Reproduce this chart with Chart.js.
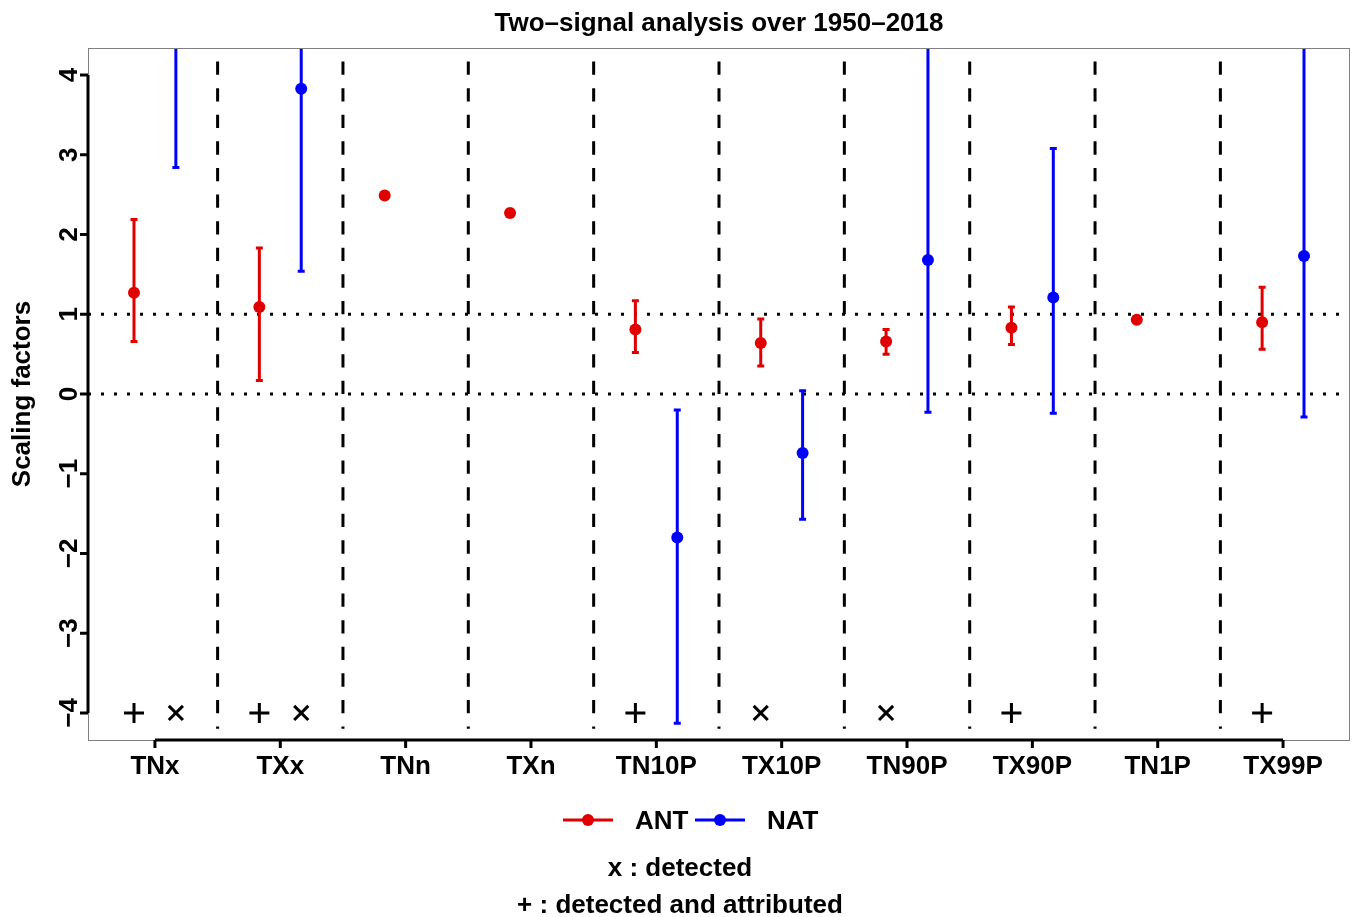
<!DOCTYPE html>
<html>
<head>
<meta charset="utf-8">
<title>Two-signal analysis over 1950-2018</title>
<script src="https://cdn.jsdelivr.net/npm/chart.js@4.4.0/dist/chart.umd.min.js"></script>
<style>
  html, body { margin: 0; padding: 0; background: #fff; }
  #chart { display: block; }
</style>
</head>
<body>
<canvas id="chart" width="1355" height="917"></canvas>
<script>
// ====== Data ======
const categories = ["TNx", "TXx", "TNn", "TXn", "TN10P", "TX10P", "TN90P", "TX90P", "TN1P", "TX99P"];

// ANT signal: best estimate + 90% range (null = no range drawn)
const antBest = [1.27, 1.09, 2.49, 2.27, 0.81, 0.64, 0.66, 0.83, 0.93, 0.90];
const antLow  = [0.66, 0.17, null, null, 0.52, 0.35, 0.50, 0.62, null, 0.56];
const antHigh = [2.19, 1.83, null, null, 1.17, 0.94, 0.81, 1.09, null, 1.34];

// NAT signal (values above the plot are estimates, they get clipped)
const natBest = [5.2, 3.83, null, null, -1.80, -0.74, 1.68, 1.21, null, 1.73];
const natLow  = [2.84, 1.54, null, null, -4.13, -1.57, -0.23, -0.24, null, -0.29];
const natHigh = [7.6, 6.1, null, null, -0.20, 0.04, 4.9, 3.08, null, 4.8];

// detection flags drawn along the bottom: "+" detected and attributed, "x" detected
const antDetect = ["+", "+", "", "", "+", "x", "x", "+", "", "+"];
const natDetect = ["x", "x", "", "", "", "", "", "", "", ""];
const detectLevel = -4;

const yTicks = [-4, -3, -2, -1, 0, 1, 2, 3, 4];
const refLines = [0, 1];
const separators = [1.5, 2.5, 3.5, 4.5, 5.5, 6.5, 7.5, 8.5, 9.5];

// ====== Style ======
const FONT = '"Liberation Sans", Arial, Helvetica, sans-serif';
const RED = "#e00000";
const BLUE = "#0000ff";
const ANT_SHIFT = -0.167;
const NAT_SHIFT = 0.167;

function toPoints(values, shift) {
  const pts = [];
  values.forEach((v, i) => {
    if (v !== null) pts.push({ x: i + 1 + shift, y: v });
  });
  return pts;
}

function detectPoints(flags, shift, symbol) {
  const pts = [];
  flags.forEach((f, i) => {
    if (f === symbol) pts.push({ x: i + 1 + shift, y: detectLevel });
  });
  return pts;
}

function minusLabel(v) {
  return v < 0 ? "\u2212" + Math.abs(v) : String(v);
}

// ====== Background: reference lines, separators, error bars ======
const errorBarPlugin = {
  id: "errorBars",
  beforeDatasetsDraw(chart) {
    const { ctx, chartArea: a, scales: { x, y } } = chart;
    ctx.save();
    ctx.beginPath();
    ctx.rect(a.left, a.top, a.right - a.left, a.bottom - a.top);
    ctx.clip();

    // dotted lines at 0 and 1
    ctx.strokeStyle = "#000";
    ctx.lineWidth = 3;
    ctx.setLineDash([3, 10]);
    refLines.forEach(v => {
      const py = y.getPixelForValue(v);
      ctx.beginPath();
      ctx.moveTo(a.left, py);
      ctx.lineTo(a.right, py);
      ctx.stroke();
    });

    // dashed separators between indices
    ctx.setLineDash([13.3, 13.3]);
    separators.forEach(s => {
      const px = x.getPixelForValue(s);
      ctx.beginPath();
      ctx.moveTo(px, y.getPixelForValue(4.17));
      ctx.lineTo(px, y.getPixelForValue(-4.2));
      ctx.stroke();
    });
    ctx.setLineDash([]);

    const drawBars = (low, high, shift, color) => {
      ctx.strokeStyle = color;
      ctx.lineWidth = 3;
      low.forEach((lo, i) => {
        if (lo === null || high[i] === null) return;
        const px = x.getPixelForValue(i + 1 + shift);
        const p1 = y.getPixelForValue(lo);
        const p2 = y.getPixelForValue(high[i]);
        ctx.beginPath();
        ctx.moveTo(px, p1);
        ctx.lineTo(px, p2);
        ctx.moveTo(px - 3.5, p1);
        ctx.lineTo(px + 3.5, p1);
        ctx.moveTo(px - 3.5, p2);
        ctx.lineTo(px + 3.5, p2);
        ctx.stroke();
      });
    };
    drawBars(antLow, antHigh, ANT_SHIFT, RED);
    drawBars(natLow, natHigh, NAT_SHIFT, BLUE);
    ctx.restore();
  }
};

// ====== Foreground: axes, labels, legend, notes ======
const decorPlugin = {
  id: "decor",
  afterDraw(chart) {
    const { ctx, chartArea: a, scales: { x, y } } = chart;
    ctx.save();

    // thin plot box
    ctx.strokeStyle = "#808080";
    ctx.lineWidth = 1;
    ctx.strokeRect(a.left + 0.5, a.top + 0.5, a.right - a.left - 1, a.bottom - a.top);

    // y axis
    ctx.strokeStyle = "#000";
    ctx.lineWidth = 3;
    ctx.beginPath();
    ctx.moveTo(a.left, y.getPixelForValue(yTicks[0]));
    ctx.lineTo(a.left, y.getPixelForValue(yTicks[yTicks.length - 1]));
    yTicks.forEach(t => {
      const py = y.getPixelForValue(t);
      ctx.moveTo(a.left, py);
      ctx.lineTo(a.left - 8, py);
    });
    ctx.stroke();

    // x axis
    ctx.beginPath();
    ctx.moveTo(x.getPixelForValue(1), a.bottom);
    ctx.lineTo(x.getPixelForValue(categories.length), a.bottom);
    categories.forEach((c, i) => {
      const px = x.getPixelForValue(i + 1);
      ctx.moveTo(px, a.bottom);
      ctx.lineTo(px, a.bottom + 8);
    });
    ctx.stroke();

    ctx.fillStyle = "#000";
    ctx.font = "bold 26px " + FONT;
    ctx.textAlign = "center";
    ctx.textBaseline = "middle";

    // y tick labels, rotated as in R
    yTicks.forEach(t => {
      ctx.save();
      ctx.translate(69, y.getPixelForValue(t));
      ctx.rotate(-Math.PI / 2);
      ctx.fillText(minusLabel(t), 0, 1);
      ctx.restore();
    });

    // y title
    ctx.save();
    ctx.translate(23, (a.top + a.bottom) / 2);
    ctx.rotate(-Math.PI / 2);
    ctx.fillText("Scaling factors", 0, 0);
    ctx.restore();

    // title
    ctx.fillText("Two\u2013signal analysis over 1950\u20132018", (a.left + a.right) / 2, 24);

    // legend
    const legendY = 820;
    const item = (x0, color, label) => {
      ctx.strokeStyle = color;
      ctx.lineWidth = 3;
      ctx.beginPath();
      ctx.moveTo(x0, legendY);
      ctx.lineTo(x0 + 50, legendY);
      ctx.stroke();
      ctx.fillStyle = color;
      ctx.beginPath();
      ctx.arc(x0 + 25, legendY, 6, 0, Math.PI * 2);
      ctx.fill();
      ctx.fillStyle = "#000";
      ctx.textAlign = "left";
      ctx.fillText(label, x0 + 72, legendY + 2);
    };
    item(563, RED, "ANT");
    item(695, BLUE, "NAT");

    // notes
    ctx.textAlign = "center";
    ctx.fillText("x : detected", 680, 869);
    ctx.fillText("+ : detected and attributed", 680, 906);

    ctx.restore();
  }
};

// ====== Chart ======
const ctx = document.getElementById("chart").getContext("2d");
new Chart(ctx, {
  type: "scatter",
  data: {
    datasets: [
      {
        label: "ANT",
        data: toPoints(antBest, ANT_SHIFT),
        backgroundColor: RED,
        pointRadius: 6,
        pointBorderWidth: 0
      },
      {
        label: "NAT",
        data: toPoints(natBest, NAT_SHIFT),
        backgroundColor: BLUE,
        pointRadius: 6,
        pointBorderWidth: 0
      },
      {
        label: "detected and attributed",
        data: detectPoints(antDetect, ANT_SHIFT, "+").concat(detectPoints(natDetect, NAT_SHIFT, "+")),
        pointStyle: "cross",
        pointRadius: 10,
        borderColor: "#000",
        pointBorderWidth: 3
      },
      {
        label: "detected",
        data: detectPoints(antDetect, ANT_SHIFT, "x").concat(detectPoints(natDetect, NAT_SHIFT, "x")),
        pointStyle: "crossRot",
        pointRadius: 10,
        borderColor: "#000",
        pointBorderWidth: 3
      }
    ]
  },
  options: {
    responsive: false,
    animation: false,
    devicePixelRatio: 1,
    layout: {
      autoPadding: false,
      padding: { top: 48, right: 5, bottom: 117, left: 0 }
    },
    plugins: {
      legend: { display: false },
      title: { display: false },
      tooltip: { enabled: false }
    },
    scales: {
      x: {
        type: "linear",
        min: 0.466,
        max: 10.534,
        grid: { display: false, drawTicks: false },
        border: { display: false },
        afterBuildTicks: scale => {
          scale.ticks = categories.map((c, i) => ({ value: i + 1 }));
        },
        afterFit: scale => {
          scale.height = 60;
          scale.paddingLeft = 0;
          scale.paddingRight = 0;
        },
        ticks: {
          autoSkip: false,
          maxRotation: 0,
          padding: 11,
          color: "#000",
          font: { family: FONT, size: 26, weight: "bold" },
          callback: v => categories[v - 1]
        }
      },
      y: {
        min: -4.34,
        max: 4.34,
        grid: { display: false, drawTicks: false },
        border: { display: false },
        ticks: { display: false },
        afterFit: scale => {
          scale.width = 88;
          scale.paddingTop = 0;
          scale.paddingBottom = 0;
        }
      }
    }
  },
  plugins: [errorBarPlugin, decorPlugin]
});
</script>
</body>
</html>
